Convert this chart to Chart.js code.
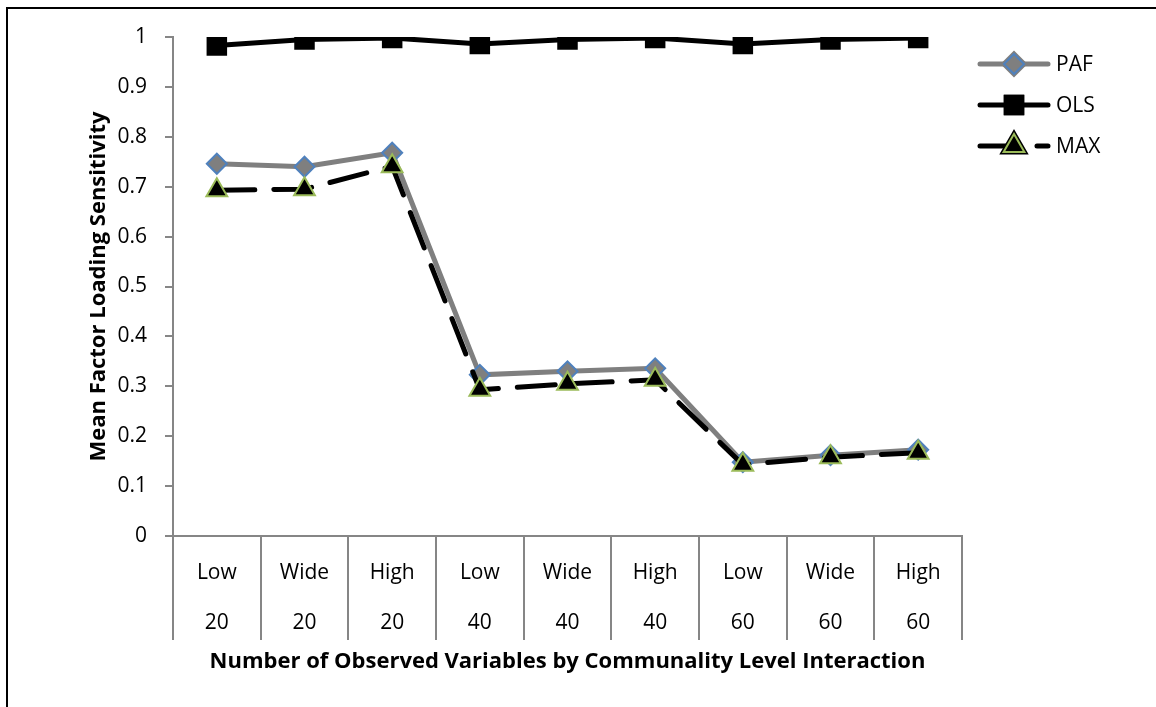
<!DOCTYPE html>
<html>
<head>
    <meta charset="UTF-8" />
    <title>Mean Factor Loading Sensitivity</title>
    <script src="https://cdn.jsdelivr.net/npm/chart.js"></script>
    <style>
        body { margin: 0; background: #fff; overflow: hidden; }
        #frame {
            position: absolute; left: 6px; top: 7px; width: 2000px; height: 2000px;
            border-left: 2px solid #000; border-top: 2px solid #000;
        }
        #chart { position: absolute; left: 0; top: 0; }
    </style>
</head>
<body>
    <div id="frame"></div>
    <canvas id="chart" width="1156" height="707"></canvas>

    <script>
        // categories: communality level / number of observed variables
        const levels = ['Low', 'Wide', 'High', 'Low', 'Wide', 'High', 'Low', 'Wide', 'High'];
        const nVars = ['20', '20', '20', '40', '40', '40', '60', '60', '60'];

        const paf = [0.746, 0.740, 0.768, 0.323, 0.330, 0.336, 0.148, 0.162, 0.173];
        const ols = [0.983, 0.995, 0.998, 0.986, 0.995, 0.998, 0.986, 0.995, 0.998];
        const max = [0.693, 0.695, 0.741, 0.293, 0.305, 0.313, 0.143, 0.158, 0.167];

        const yTicks = [0, 0.1, 0.2, 0.3, 0.4, 0.5, 0.6, 0.7, 0.8, 0.9, 1];

        const FONT = "'Open Sans', 'DejaVu Sans', sans-serif";
        const GRAY = '#868686';

        // legend drawn by hand: line with marker in the middle
        const sideLegend = {
            id: 'sideLegend',
            afterDraw(chart) {
                const ctx = chart.ctx;
                const items = [chart.data.datasets[0], chart.data.datasets[1], chart.data.datasets[2]];
                items.forEach((ds, i) => {
                    const y = 64 + i * 41;
                    ctx.save();
                    ctx.strokeStyle = ds.borderColor;
                    ctx.lineWidth = ds.borderWidth;
                    ctx.lineCap = 'round';
                    ctx.setLineDash(ds.borderDash || []);
                    ctx.beginPath();
                    ctx.moveTo(980, y);
                    ctx.lineTo(1048, y);
                    ctx.stroke();
                    ctx.setLineDash([]);
                    Chart.helpers.drawPoint(ctx, {
                        pointStyle: ds.pointStyle,
                        radius: ds.pointRadius,
                        borderWidth: ds.pointBorderWidth,
                        rotation: 0
                    }, 1014, y);
                    ctx.fillStyle = ds.pointBackgroundColor;
                    ctx.strokeStyle = ds.pointBorderColor;
                    ctx.lineWidth = ds.pointBorderWidth;
                    ctx.fill();
                    if (ds.pointBorderWidth > 0) ctx.stroke();
                    ctx.fillStyle = '#000';
                    ctx.font = '21px ' + FONT;
                    ctx.textBaseline = 'middle';
                    ctx.fillText(ds.label, 1056, y + 1);
                    ctx.restore();
                });
            }
        };

        const ctx = document.getElementById('chart').getContext('2d');

        const myChart = new Chart(ctx, {
            type: 'line',
            data: {
                labels: levels.map((l, i) => [l, nVars[i]]),
                datasets: [{
                    label: 'PAF',
                    data: paf,
                    order: 2,
                    borderColor: '#7f7f7f',
                    borderWidth: 5,
                    pointStyle: 'rectRot',
                    pointRadius: 10,
                    pointBackgroundColor: '#7f7f7f',
                    pointBorderColor: '#4f81bd',
                    pointBorderWidth: 2
                }, {
                    label: 'OLS',
                    data: ols,
                    order: 1,
                    borderColor: '#000',
                    borderWidth: 5,
                    pointStyle: 'rect',
                    pointRadius: 14.5,
                    pointBackgroundColor: '#000',
                    pointBorderColor: '#000',
                    pointBorderWidth: 0
                }, {
                    label: 'MAX',
                    data: max,
                    order: 0,
                    borderColor: '#000',
                    borderWidth: 5,
                    borderDash: [38, 19],
                    borderCapStyle: 'round',
                    pointStyle: 'triangle',
                    pointRadius: 12,
                    pointBackgroundColor: '#000',
                    pointBorderColor: '#9bbb59',
                    pointBorderWidth: 2
                }]
            },
            options: {
                responsive: false,
                animation: false,
                tension: 0,
                layout: { padding: { top: 37, right: 194, bottom: 0, left: 0 } },
                plugins: { legend: { display: false }, tooltip: { enabled: false } },
                scales: {
                    x: {
                        offset: true,
                        afterFit: function(scale) { scale.height = 171; },
                        grid: {
                            offset: true,
                            drawOnChartArea: false,
                            tickLength: 104,
                            color: GRAY,
                            lineWidth: 2
                        },
                        border: { color: GRAY, width: 2 },
                        ticks: {
                            color: '#000',
                            padding: -92,
                            maxRotation: 0,
                            autoSkip: false,
                            font: { family: FONT, size: 21, lineHeight: '50px' }
                        },
                        title: {
                            display: true,
                            text: 'Number of Observed Variables by Communality Level Interaction',
                            color: '#000',
                            padding: { top: 0, bottom: 32 },
                            font: { family: FONT, size: 22, weight: 'bold' }
                        }
                    },
                    y: {
                        min: 0,
                        max: 1,
                        afterFit: function(scale) { scale.width = 173; },
                        afterBuildTicks: function(scale) {
                            scale.ticks = yTicks.map(v => ({ value: v }));
                        },
                        grid: {
                            drawOnChartArea: false,
                            tickLength: 8,
                            color: GRAY,
                            lineWidth: 2
                        },
                        border: { color: GRAY, width: 2 },
                        ticks: {
                            color: '#000',
                            padding: 18,
                            callback: v => String(+v.toFixed(1)),
                            font: { family: FONT, size: 21 }
                        },
                        title: {
                            display: true,
                            text: 'Mean Factor Loading Sensitivity',
                            color: '#000',
                            padding: { top: 86, bottom: 0 },
                            font: { family: FONT, size: 22, weight: 'bold' }
                        }
                    }
                }
            },
            plugins: [sideLegend]
        });
    </script>
</body>
</html>
